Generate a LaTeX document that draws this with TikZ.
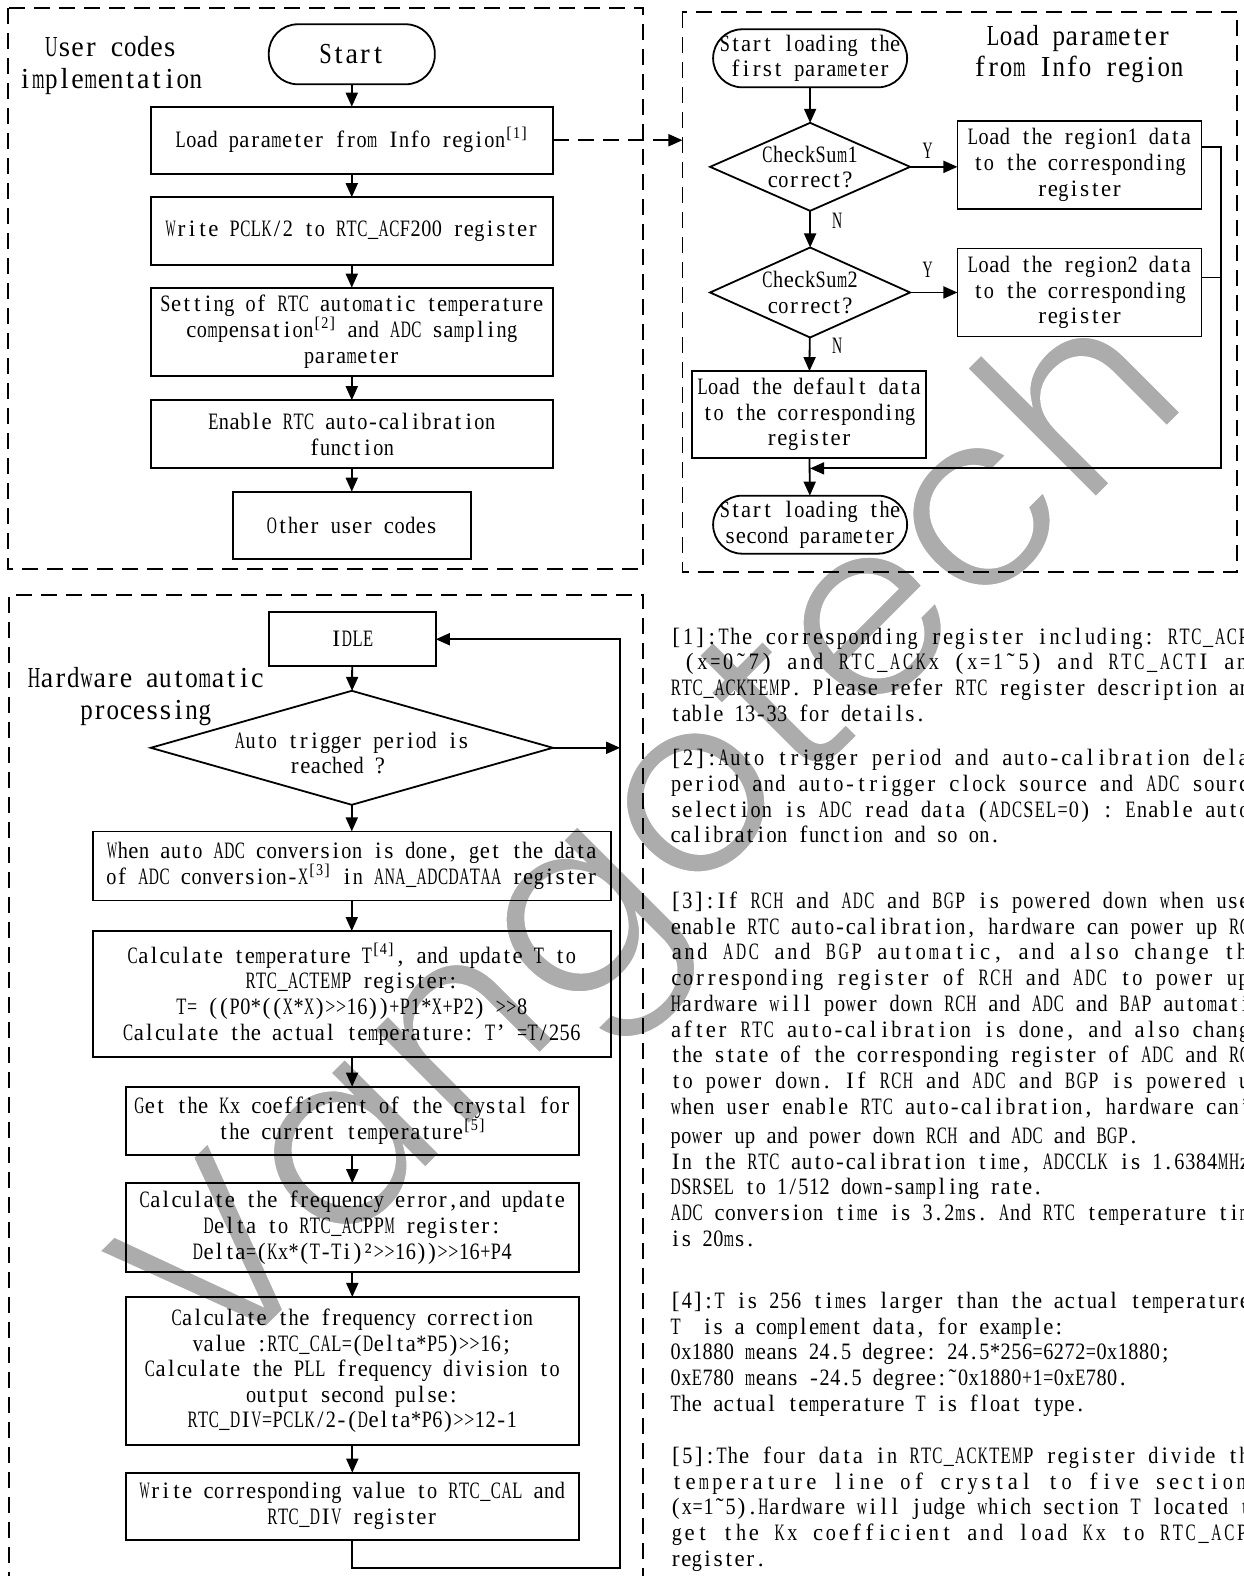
\documentclass[tikz,border=0pt]{standalone}
\usepackage{fontspec}
\setmainfont{Liberation Serif}[Ligatures=TeXOff]
\newfontfamily\wmfont{Poppins}
\usetikzlibrary{arrows.meta,shapes.geometric,calc}
\definecolor{wmgray}{RGB}{172,172,172}

% fixed-pitch setting: every character sits centred in a cell of equal width,
% glyphs that are too wide are squeezed horizontally
\ExplSyntaxOn
\dim_new:N \l__mono_cell_dim
\dim_new:N \l__mono_max_dim
\box_new:N \l__mono_glyph_box
\cs_new_protected:Npn \__mono_char:n #1
  {
    \tl_if_blank:nTF {#1}
      { \hbox_to_wd:nn { \l__mono_cell_dim } { } }
      {
        \hbox_set:Nn \l__mono_glyph_box {#1}
        \dim_compare:nNnT { \box_wd:N \l__mono_glyph_box } > { \l__mono_max_dim }
          {
            \box_scale:Nnn \l__mono_glyph_box
              { \fp_eval:n { \dim_to_fp:n { \l__mono_max_dim } / \dim_to_fp:n { \box_wd:N \l__mono_glyph_box } } }
              { 1 }
          }
        \hbox_to_wd:nn { \l__mono_cell_dim } { \hfil \box_use_drop:N \l__mono_glyph_box \hfil }
      }
  }
\NewDocumentCommand \mono { m }
  {
    \group_begin:
    \dim_set:Nn \l__mono_cell_dim { 0.453em }
    \dim_set:Nn \l__mono_max_dim { 0.43em }
    \str_map_inline:nn {#1} { \__mono_char:n {##1} }
    \group_end:
  }
% a line spread evenly over a given width
\NewDocumentCommand \monofit { m m }
  {
    \group_begin:
    \dim_set:Nn \l__mono_cell_dim { #1 / \str_count:n {#2} }
    \dim_set:Nn \l__mono_max_dim { 0.43em }
    \str_map_inline:nn {#2} { \__mono_char:n {##1} }
    \group_end:
  }
\ExplSyntaxOff
\newcommand\fn[1]{\textsuperscript{\mono{#1}}}
\newcommand\jl[1]{\monofit{591pt}{#1}}
% fill the glyphs, then stroke their outlines in white: slims the strokes
\newcommand\slim[2]{\special{pdf:literal direct 2 Tr #1 w 1 G}#2\special{pdf:literal direct 0 Tr}}

\tikzset{
  every node/.style={inner sep=0pt, outer sep=0pt},
  txt/.style={font=\fontsize{23.5}{25.6}\selectfont, align=center},
  proc/.style={txt, draw, line width=1.8pt},
  term/.style={proc, rounded corners=29pt},
  decide/.style={draw, diamond, line width=1.8pt},
  flow/.style={line width=1.8pt, -{Triangle[length=14pt,width=12pt]}},
  link/.style={line width=1.8pt},
  frame/.style={line width=1.6pt, dash pattern=on 16pt off 9pt},
  title/.style={font=\fontsize{29}{31.5}\selectfont, align=center},
  note/.style={font=\fontsize{23.5}{25.7}\selectfont, align=left, anchor=north west},
  wmark/.style={rotate=45, anchor=base west, text=wmgray, font=\wmfont\fontsize{250}{250}\selectfont},
}
\begin{document}
\begin{tikzpicture}[x=1.005pt,y=-1.005pt]
\useasboundingbox (0,0) rectangle (1237,1568);

% watermark, kept behind the drawing
\node[wmark] (wm) at (215,1372) {\slim{5}{Vangotech}};

% ---------------- user code block ----------------
\draw[frame] (8,8) rectangle (640,566);
\node[title] (ut) at (110,65) {\mono{User codes}\\\mono{implementation}};

\node[term, minimum width=166pt, minimum height=60pt, font=\fontsize{29}{31}\selectfont] (start) at (350,54) {\mono{Start}};
\node[proc, minimum width=402pt, minimum height=67pt] (b1) at (350,139.5) {\mono{Load parameter from Info region}\fn{[1]}};
\node[proc, minimum width=402pt, minimum height=68pt] (b2) at (350,230) {\mono{Write PCLK/2 to RTC_ACF200 register}};
\node[proc, minimum width=402pt, minimum height=88pt] (b3) at (350,330) {\mono{Setting of RTC automatic temperature}\\\mono{compensation}\fn{[2]}\mono{ and ADC sampling}\\\mono{parameter}};
\node[proc, minimum width=402pt, minimum height=68pt] (b4) at (350,432) {\mono{Enable RTC auto-calibration}\\\mono{function}};
\node[proc, minimum width=238pt, minimum height=67pt] (b5) at (350,522.5) {\mono{Other user codes}};

\draw[flow] (start) -- (b1);
\draw[flow] (b1) -- (b2);
\draw[flow] (b2) -- (b3);
\draw[flow] (b3) -- (b4);
\draw[flow] (b4) -- (b5);

% ---------------- parameter loading block ----------------
\draw[frame] (679,12) rectangle (1231,569);
\coordinate (entry) at (679,139.5);
\draw[line width=1.8pt, dash pattern=on 16pt off 9pt, -{Triangle[length=14pt,width=12pt]}] (b1.east) -- (entry);

\node[title] (lt) at (1073,54) {\mono{Load parameter}\\\mono{from Info region}};

\node[term, minimum width=194pt, minimum height=58pt] (s1) at (806,58) {\mono{Start loading the}\\\mono{first parameter}};
\node[decide, minimum width=200pt, minimum height=88pt] (d1) at (806,166) {};
\node[txt] at (d1) {\mono{CheckSum1}\\\mono{correct?}};
\node[proc, minimum width=244pt, minimum height=88pt] (r1) at (1074,164) {\mono{Load the region1 data}\\\mono{to the corresponding}\\\mono{register}};
\node[decide, minimum width=200pt, minimum height=90pt] (d2) at (806,291) {};
\node[txt] at (d2) {\mono{CheckSum2}\\\mono{correct?}};
\node[proc, minimum width=244pt, minimum height=88pt] (r2) at (1074,291) {\mono{Load the region2 data}\\\mono{to the corresponding}\\\mono{register}};
\node[proc, minimum width=234pt, minimum height=87pt] (def) at (805,412.5) {\mono{Load the default data}\\\mono{to the corresponding}\\\mono{register}};
\node[term, minimum width=194pt, minimum height=58pt] (s2) at (806,522) {\mono{Start loading the}\\\mono{second parameter}};

\node[txt] (y1) at (923,150) {\mono{Y}};
\node[txt] (n1) at (833,220) {\mono{N}};
\node[txt] (y2) at (923,268) {\mono{Y}};
\node[txt] (n2) at (833,344) {\mono{N}};

\draw[flow] (s1) -- (d1);
\draw[flow] (d1.east) -- (r1.west |- d1.east);
\draw[flow] (d1) -- (d2);
\draw[flow] (d2.east) -- (r2.west |- d2.east);
\draw[flow] (d2) -- (def);
\draw[flow] (def) -- (s2);

\coordinate (r1o) at ($(r1.north east)!0.3!(r1.south east)$);
\coordinate (r2o) at ($(r2.north east)!0.33!(r2.south east)$);
\coordinate (rail) at (1215,466);
\coordinate (merge) at (806,466);
\draw[link] (r2o) -- (r2o -| rail);
\draw[flow] (r1o) -| (rail) -- (merge);

% ---------------- hardware block ----------------
\draw[frame] (9,1580) -- (9,592) -- (640,592) -- (640,1580);
\node[title] (ht) at (145,693) {\mono{Hardware automatic}\\\mono{processing}};

\node[proc, minimum width=167pt, minimum height=54pt] (idle) at (350.5,636) {\mono{IDLE}};
\node[decide, minimum width=402pt, minimum height=114pt] (d3) at (350,744) {};
\node[txt] at (350,749) {\mono{Auto trigger period is}\\\mono{reached ?}\hspace*{29pt}};
\node[proc, minimum width=518pt, minimum height=69pt] (a1) at (350,861.5) {\mono{When auto ADC conversion is done, get the data}\\\mono{of ADC conversion-X}\fn{[3]}\mono{ in ANA_ADCDATAA register}};
\node[proc, minimum width=518pt, minimum height=126pt] (a2) at (350,989) {\mono{Calculate temperature T}\fn{[4]}\mono{, and update T to}\\\mono{RTC_ACTEMP register:}\\\mono{T= ((P0*((X*X)>>16))+P1*X+P2) >>8}\\\mono{Calculate the actual temperature: T’ =T/256}};
\node[proc, minimum width=453pt, minimum height=68pt] (a3) at (350.5,1115) {\mono{Get the Kx coefficient of the crystal for}\\\mono{the current temperature}\fn{[5]}};
\node[proc, minimum width=453pt, minimum height=89pt] (a4) at (350.5,1221.5) {\mono{Calculate the frequency error,and update}\\\mono{Delta to RTC_ACPPM register:}\\\mono{Delta=(Kx*(T-Ti)²>>16))>>16+P4}};
\node[proc, minimum width=453pt, minimum height=148pt] (a5) at (350.5,1364) {\mono{Calculate the frequency correction}\\\mono{value :RTC_CAL=(Delta*P5)>>16;}\\\mono{Calculate the PLL frequency division to}\\\mono{output second pulse:}\\\mono{RTC_DIV=PCLK/2-(Delta*P6)>>12-1}};
\node[proc, minimum width=453pt, minimum height=67pt] (a6) at (350.5,1498.5) {\mono{Write corresponding value to RTC_CAL and}\\\mono{RTC_DIV register}};

\coordinate (loop) at (617,1560);
\draw[flow] (idle) -- (d3);
\draw[flow] (d3) -- (a1);
\draw[flow] (a1) -- (a2);
\draw[flow] (a2) -- (a3);
\draw[flow] (a3) -- (a4);
\draw[flow] (a4) -- (a5);
\draw[flow] (a5) -- (a6);
\draw[flow] (d3.east) -- (d3.east -| loop);
\draw[flow] (a6.south) |- (loop) |- (idle.east);

% ---------------- notes ----------------
\node[note] (f1) at (667,624.5) {\jl{[1]:The corresponding register including: RTC_ACPx}\\
\jl{ (x=0˜7) and RTC_ACKx (x=1˜5) and RTC_ACTI and}\\
\jl{RTC_ACKTEMP. Please refer RTC register description and}\\
\mono{table 13-33 for details.}};
\node[note] (f2) at (667,745.5) {\jl{[2]:Auto trigger period and auto-calibration delay}\\
\jl{period and auto-trigger clock source and ADC source}\\
\jl{selection is ADC read data (ADCSEL=0) : Enable auto-}\\
\mono{calibration function and so on.}};
\node[note] (f3) at (667,887.5) {\jl{[3]:If RCH and ADC and BGP is powered down when user}\\
\jl{enable RTC auto-calibration, hardware can power up RCH}\\
\jl{and ADC and BGP automatic, and also change the}\\
\jl{corresponding register of RCH and ADC to power up.}\\
\jl{Hardware will power down RCH and ADC and BAP automatic}\\
\jl{after RTC auto-calibration is done, and also change}\\
\jl{the state of the corresponding register of ADC and RCH}\\
\jl{to power down. If RCH and ADC and BGP is powered up}\\
\jl{when user enable RTC auto-calibration, hardware can’t}};
\node[note] (f3b) at (667,1121.5) {\mono{power up and power down RCH and ADC and BGP.}\\
\jl{In the RTC auto-calibration time, ADCCLK is 1.6384MHz,}\\
\mono{DSRSEL to 1/512 down-sampling rate.}\\
\jl{ADC conversion time is 3.2ms. And RTC temperature time}\\
\mono{is 20ms.}};
\node[note] (f4) at (667,1285.5) {\jl{[4]:T is 256 times larger than the actual temperature.}\\
\mono{T }\mono{ is a complement data, for example:}\\
\mono{0x1880 means 24.5 degree: 24.5*256=6272=0x1880;}\\
\mono{0xE780 means -24.5 degree:˜0x1880+1=0xE780.}\\
\mono{The actual temperature T is float type.}};
\node[note] (f5) at (667,1439.5) {\jl{[5]:The four data in RTC_ACKTEMP register divide the}\\
\jl{temperature line of crystal to five sections}\\
\jl{(x=1˜5).Hardware will judge which section T located to}\\
\jl{get the Kx coefficient and load Kx to RTC_ACPx}\\
\mono{register.}};
\end{tikzpicture}
\end{document}
